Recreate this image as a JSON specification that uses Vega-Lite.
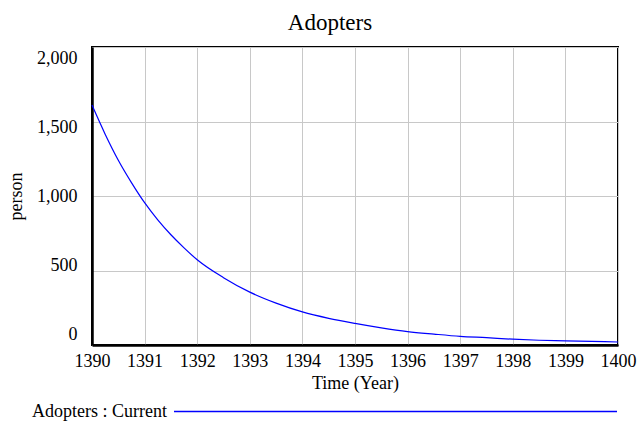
{
  "$schema": "https://vega.github.io/schema/vega-lite/v6.json",
  "width": 526,
  "height": 298,
  "autosize": {"type": "none"},
  "padding": {"left": 92, "top": 47, "right": 19, "bottom": 76},
  "background": "white",
  "title": {
    "text": "Adopters",
    "font": "Liberation Serif",
    "fontSize": 23,
    "fontWeight": "normal",
    "color": "black",
    "anchor": "middle",
    "frame": "group",
    "baseline": "alphabetic",
    "offset": 18,
    "dx": -25,
    "dy": 24
  },
  "config": {
    "view": {"stroke": "black", "strokeWidth": 2},
    "axis": {
      "labelFont": "Liberation Serif",
      "titleFont": "Liberation Serif",
      "labelFontSize": 18,
      "titleFontSize": 18,
      "titleFontWeight": "normal",
      "labelColor": "black",
      "titleColor": "black",
      "gridColor": "#c8c8c8",
      "gridWidth": 1,
      "gridOpacity": 1,
      "ticks": false,
      "domainColor": "black",
      "domainWidth": 2.5
    }
  },
  "data": {
    "values": [
      {"year": 1390, "adopters": 1610, "series": "Adopters : Current"},
      {"year": 1390.25, "adopters": 1415, "series": "Adopters : Current"},
      {"year": 1390.5, "adopters": 1240, "series": "Adopters : Current"},
      {"year": 1390.75, "adopters": 1090, "series": "Adopters : Current"},
      {"year": 1391, "adopters": 955, "series": "Adopters : Current"},
      {"year": 1391.25, "adopters": 840, "series": "Adopters : Current"},
      {"year": 1391.5, "adopters": 740, "series": "Adopters : Current"},
      {"year": 1391.75, "adopters": 652, "series": "Adopters : Current"},
      {"year": 1392, "adopters": 572, "series": "Adopters : Current"},
      {"year": 1392.5, "adopters": 452, "series": "Adopters : Current"},
      {"year": 1393, "adopters": 355, "series": "Adopters : Current"},
      {"year": 1393.5, "adopters": 281, "series": "Adopters : Current"},
      {"year": 1394, "adopters": 222, "series": "Adopters : Current"},
      {"year": 1394.5, "adopters": 179, "series": "Adopters : Current"},
      {"year": 1395, "adopters": 145, "series": "Adopters : Current"},
      {"year": 1395.5, "adopters": 115, "series": "Adopters : Current"},
      {"year": 1396, "adopters": 90, "series": "Adopters : Current"},
      {"year": 1396.5, "adopters": 73, "series": "Adopters : Current"},
      {"year": 1397, "adopters": 58, "series": "Adopters : Current"},
      {"year": 1397.5, "adopters": 49, "series": "Adopters : Current"},
      {"year": 1398, "adopters": 39, "series": "Adopters : Current"},
      {"year": 1398.5, "adopters": 32, "series": "Adopters : Current"},
      {"year": 1399, "adopters": 28, "series": "Adopters : Current"},
      {"year": 1399.5, "adopters": 24, "series": "Adopters : Current"},
      {"year": 1400, "adopters": 20, "series": "Adopters : Current"}
    ]
  },
  "mark": {"type": "line", "strokeWidth": 1.2, "interpolate": "monotone"},
  "encoding": {
    "x": {
      "field": "year",
      "type": "quantitative",
      "scale": {"domain": [1390, 1400], "nice": false, "zero": false},
      "axis": {
        "title": "Time (Year)",
        "values": [1390, 1391, 1392, 1393, 1394, 1395, 1396, 1397, 1398, 1399, 1400],
        "format": "d",
        "labelPadding": 7,
        "labelFlush": false,
        "labelOverlap": false,
        "titleBaseline": "middle",
        "titleY": 38,
        "titleX": 263
      }
    },
    "y": {
      "field": "adopters",
      "type": "quantitative",
      "scale": {"domain": [0, 2000], "nice": false},
      "axis": {
        "title": "person",
        "values": [0, 500, 1000, 1500, 2000],
        "format": ",d",
        "labelPadding": 15,
        "labelOffset": {"expr": "(datum.value - 1000) * 0.011"},
        "titleBaseline": "middle",
        "titleAngle": -90,
        "titleAlign": "center",
        "titleX": -76,
        "titleY": 149
      }
    },
    "color": {
      "field": "series",
      "type": "nominal",
      "scale": {"range": ["#0000ff"]},
      "legend": {
        "title": null,
        "orient": "none",
        "legendX": 81,
        "legendY": 142,
        "padding": 0,
        "symbolType": "stroke",
        "symbolSize": 196249,
        "symbolStrokeWidth": 1.3,
        "labelFont": "Liberation Serif",
        "labelFontSize": 18,
        "labelColor": "black",
        "labelAlign": "right",
        "labelOffset": -451,
        "labelLimit": 0
      }
    }
  }
}
